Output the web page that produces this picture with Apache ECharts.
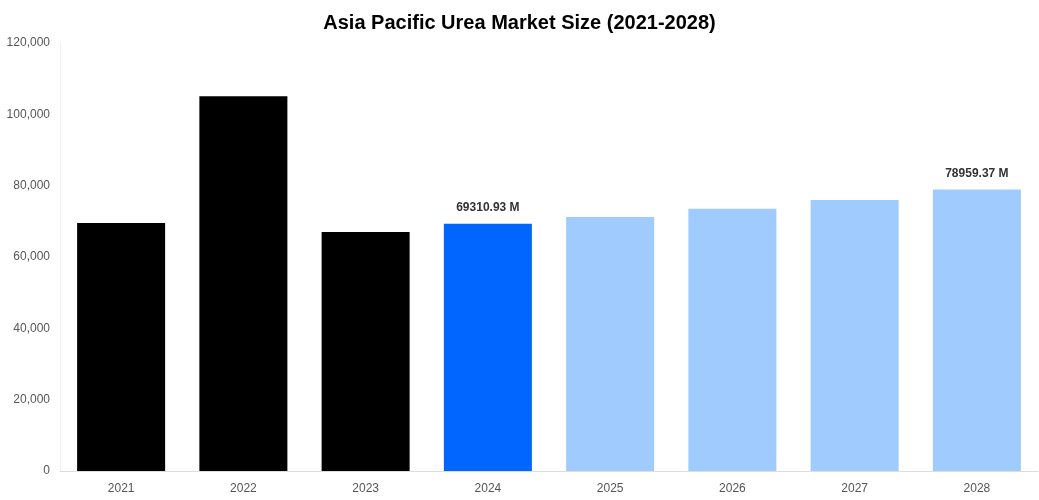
<!DOCTYPE html>
<html><head><meta charset="utf-8">
<script src="https://cdn.jsdelivr.net/npm/echarts@6/dist/echarts.min.js"></script>
<style>html,body{margin:0;padding:0;background:#fff}#c{width:1039px;height:500px}</style>
</head><body><div id="c"></div>
<script>
const categories = ['2021','2022','2023','2024','2025','2026','2027','2028'];
const values = [69500, 105100, 67000, 69310.93, 71200, 73500, 76000, 78959.37];
const colors = ['#000000','#000000','#000000','#0066ff','#a0cbff','#a0cbff','#a0cbff','#a0cbff'];
const labelled = [3, 7];
const chart = echarts.init(document.getElementById('c'));
chart.setOption({
  animation: false,
  title: {text: 'Asia Pacific Urea Market Size (2021-2028)', left: 'center', top: 8,
    textStyle: {fontFamily: 'Liberation Sans, Arial', fontSize: 20, fontWeight: 'bold', color: '#000'}},
  grid: {left: 60, right: 1, top: 43, bottom: 29},
  xAxis: {type: 'category', data: categories,
    axisLine: {lineStyle: {color: '#ddd'}}, axisTick: {show: false},
    axisLabel: {color: '#555', fontSize: 12, fontFamily: 'Liberation Sans, Arial', margin: 12}},
  yAxis: {type: 'value', min: 0, max: 120000, interval: 20000,
    axisLine: {show: true, lineStyle: {color: '#eee'}}, splitLine: {show: false},
    axisLabel: {color: '#555', fontSize: 12, fontFamily: 'Liberation Sans, Arial', margin: 10,
      formatter: v => v.toLocaleString('en-US')}},
  series: [{type: 'bar', barWidth: '72%',
    data: values.map((v, i) => ({value: v, itemStyle: {color: colors[i]},
      label: {show: labelled.includes(i), position: 'top', distance: 10,
        formatter: () => v.toFixed(2) + ' M', color: '#333', fontWeight: 'bold', fontSize: 12,
        fontFamily: 'Liberation Sans, Arial'}}))}]
});
</script></body></html>
